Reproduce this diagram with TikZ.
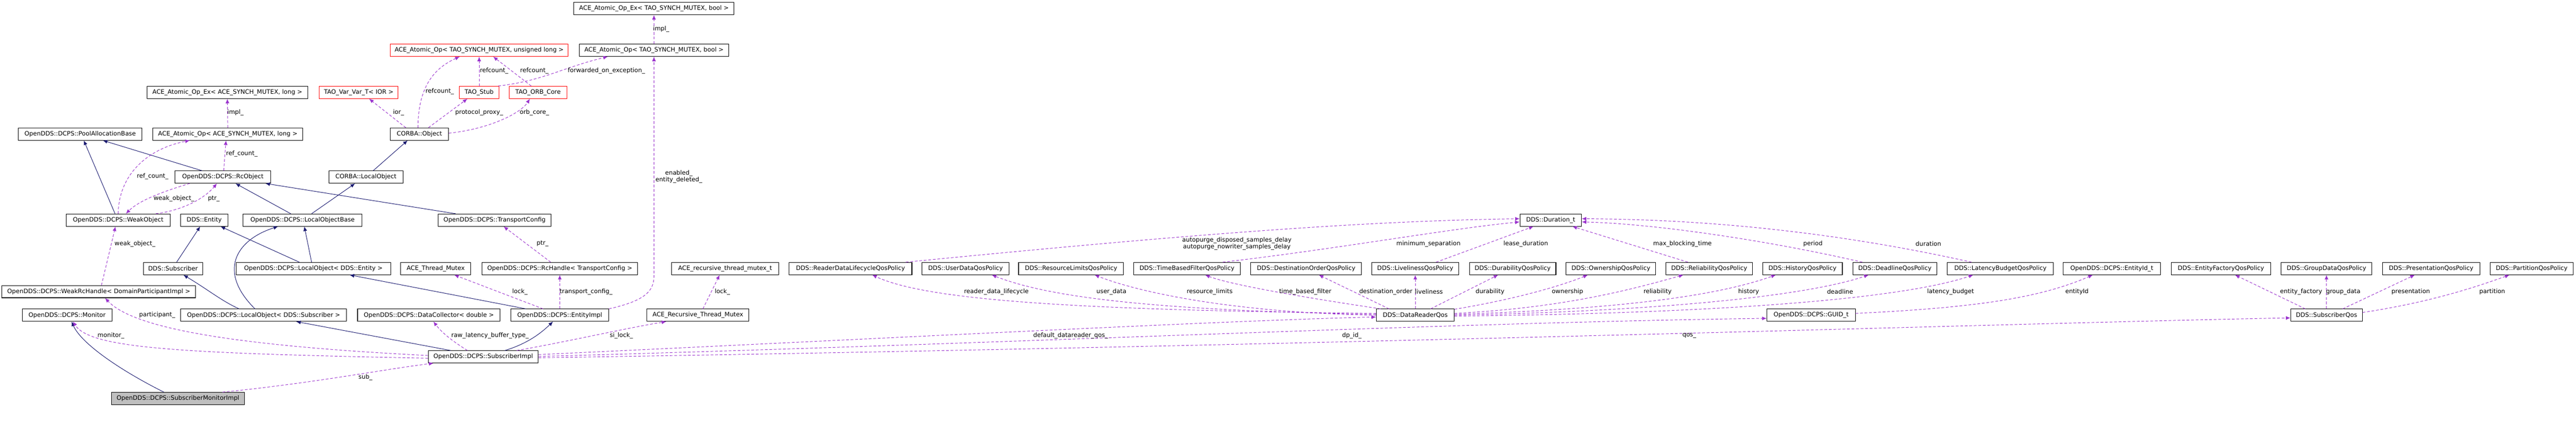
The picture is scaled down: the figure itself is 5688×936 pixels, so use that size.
\documentclass[tikz,border=0pt]{standalone}
\usepackage{fontspec}
\setmainfont{DejaVu Sans}
\usetikzlibrary{calc,arrows.meta}
\definecolor{navy}{HTML}{191970}
\definecolor{purp}{HTML}{9A32CD}
\begin{document}
\begin{tikzpicture}[x=0.5pt,y=-0.5pt,
  cls/.style={draw=black,line width=0.6pt,fill=white,minimum height=13.5pt,inner sep=0pt,font=\fontsize{6.7}{7}\selectfont},
  redcls/.style={cls,draw=red},
  inh/.style={navy,line width=0.55pt,-{Latex[length=5pt,width=4.2pt]}},
  use/.style={purp,line width=0.55pt,dash pattern=on 3pt off 2pt,-{Latex[length=5pt,width=4.2pt]}},
  lbl/.style={inner sep=0pt,font=\fontsize{6.7}{7}\selectfont,align=center}]
\useasboundingbox (0,0) rectangle (5688,936);
% nodes
\node[cls,minimum width=177.5pt] (opexlong) at (502,204) {ACE\_Atomic\_Op\_Ex< ACE\_SYNCH\_MUTEX, long >};
\node[redcls,minimum width=87pt] (taovar) at (792,204) {TAO\_Var\_Var\_T< IOR >};
\node[cls,minimum width=136.5pt] (pool) at (177,296) {OpenDDS::DCPS::PoolAllocationBase};
\node[cls,minimum width=165.5pt] (oplong) at (503,296) {ACE\_Atomic\_Op< ACE\_SYNCH\_MUTEX, long >};
\node[cls,minimum width=64.5pt] (cobj) at (926,296) {CORBA::Object};
\node[cls,minimum width=105.5pt] (rcobj) at (492,391) {OpenDDS::DCPS::RcObject};
\node[cls,minimum width=82pt] (clocal) at (808,391) {CORBA::LocalObject};
\node[cls,minimum width=115pt] (weak) at (261,486) {OpenDDS::DCPS::WeakObject};
\node[cls,minimum width=52.5pt] (entity) at (451,486) {DDS::Entity};
\node[cls,minimum width=131.5pt] (lob) at (668,486) {OpenDDS::DCPS::LocalObjectBase};
\node[cls,minimum width=125pt] (tconf) at (1092,486) {OpenDDS::DCPS::TransportConfig};
\node[cls,minimum width=65.5pt] (dsub) at (382,593) {DDS::Subscriber};
\node[cls,minimum width=170.5pt] (loent) at (692,593) {OpenDDS::DCPS::LocalObject< DDS::Entity >};
\node[cls,minimum width=77pt] (thmutex) at (962,593) {ACE\_Thread\_Mutex};
\node[cls,minimum width=172pt] (rch) at (1236,593) {OpenDDS::DCPS::RcHandle< TransportConfig >};
\node[cls,minimum width=118.5pt] (rtmt) at (1601,593) {ACE\_recursive\_thread\_mutex\_t};
\node[cls,minimum width=213.5pt] (wrch) at (218,644) {OpenDDS::DCPS::WeakRcHandle< DomainParticipantImpl >};
\node[cls,minimum width=99pt] (mon) at (148,696) {OpenDDS::DCPS::Monitor};
\node[cls,minimum width=183.5pt] (losub) at (582,696) {OpenDDS::DCPS::LocalObject< DDS::Subscriber >};
\node[cls,minimum width=157.5pt] (dcoll) at (947,696) {OpenDDS::DCPS::DataCollector< double >};
\node[cls,minimum width=108pt] (eimpl) at (1236,696) {OpenDDS::DCPS::EntityImpl};
\node[cls,minimum width=113pt] (rtm) at (1541,696) {ACE\_Recursive\_Thread\_Mutex};
\node[cls,minimum width=121.5pt] (simpl) at (1067,788) {OpenDDS::DCPS::SubscriberImpl};
\node[cls,fill={rgb,255:red,191;green,191;blue,191},minimum width=147pt] (smi) at (393,880) {OpenDDS::DCPS::SubscriberMonitorImpl};
\node[cls,minimum width=177pt] (opexbool) at (1444,19) {ACE\_Atomic\_Op\_Ex< TAO\_SYNCH\_MUTEX, bool >};
\node[redcls,minimum width=196.5pt] (opul) at (1058,111) {ACE\_Atomic\_Op< TAO\_SYNCH\_MUTEX, unsigned long >};
\node[cls,minimum width=165pt] (opbool) at (1444,111) {ACE\_Atomic\_Op< TAO\_SYNCH\_MUTEX, bool >};
\node[redcls,minimum width=43.5pt] (stub) at (1058,204) {TAO\_Stub};
\node[redcls,minimum width=63.5pt] (orb) at (1188,204) {TAO\_ORB\_Core};
\node[cls,minimum width=135.5pt] (rdl) at (1878,593) {DDS::ReaderDataLifecycleQosPolicy};
\node[cls,minimum width=96pt] (ud) at (2132,593) {DDS::UserDataQosPolicy};
\node[cls,minimum width=116pt] (rl) at (2365,593) {DDS::ResourceLimitsQosPolicy};
\node[cls,minimum width=118pt] (tbf) at (2621,593) {DDS::TimeBasedFilterQosPolicy};
\node[cls,minimum width=122pt] (dord) at (2884,593) {DDS::DestinationOrderQosPolicy};
\node[cls,minimum width=96pt] (live) at (3125,593) {DDS::LivelinessQosPolicy};
\node[cls,minimum width=95.5pt] (dur) at (3340,593) {DDS::DurabilityQosPolicy};
\node[cls,minimum width=99pt] (own) at (3557,593) {DDS::OwnershipQosPolicy};
\node[cls,minimum width=95.5pt] (rel) at (3774,593) {DDS::ReliabilityQosPolicy};
\node[cls,minimum width=88pt] (hist) at (3980,593) {DDS::HistoryQosPolicy};
\node[cls,minimum width=93pt] (dead) at (4184,593) {DDS::DeadlineQosPolicy};
\node[cls,minimum width=117pt] (lat) at (4417,593) {DDS::LatencyBudgetQosPolicy};
\node[cls,minimum width=107.5pt] (eid) at (4663,593) {OpenDDS::DCPS::EntityId\_t};
\node[cls,minimum width=110pt] (efac) at (4904,593) {DDS::EntityFactoryQosPolicy};
\node[cls,minimum width=100pt] (gd) at (5137,593) {DDS::GroupDataQosPolicy};
\node[cls,minimum width=107.5pt] (pres) at (5368,593) {DDS::PresentationQosPolicy};
\node[cls,minimum width=92pt] (part) at (5590,593) {DDS::PartitionQosPolicy};
\node[cls,minimum width=68pt] (durt) at (3424,486) {DDS::Duration\_t};
\node[cls,minimum width=86pt] (drq) at (3125,696) {DDS::DataReaderQos};
\node[cls,minimum width=97.5pt] (guid) at (3999,696) {OpenDDS::DCPS::GUID\_t};
\node[cls,minimum width=79pt] (sq) at (5137,696) {DDS::SubscriberQos};
% inheritance
\draw[inh] ($(weak.north)+(-7,0)$) -- ($(pool.south)+(8,0)$);
\draw[inh] ($(rcobj.north)+(-46,0)$) -- ($(pool.south)+(50,0)$);
\draw[inh] ($(lob.north)+(-26,0)$) -- ($(rcobj.south)+(28,0)$);
\draw[inh] ($(lob.north)+(20,0)$) -- ($(clocal.south)+(-24,0)$);
\draw[inh] ($(clocal.north)+(16,0)$) -- ($(cobj.south)+(-26,0)$);
\draw[inh] ($(tconf.north)+(-86,0)$) -- ($(rcobj.south)+(94,0)$);
\draw[inh] ($(dsub.north)+(8,0)$) -- ($(entity.south)+(-9,0)$);
\draw[inh] ($(loent.north)+(-31,0)$) -- ($(entity.south)+(36,0)$);
\draw[inh] ($(loent.north)+(-4,0)$) -- ($(lob.south)+(4,0)$);
\draw[inh] ($(losub.north)+(-54,0)$) .. controls (490,665) and (460,640) .. ($(dsub.south)+(23,0)$);
\draw[inh] ($(losub.north)+(-19,0)$) .. controls (480,600) and (520,530) .. ($(lob.south)+(-54,0)$);
\draw[inh] ($(eimpl.north)+(-75,0)$) -- ($(loent.south)+(80,0)$);
\draw[inh] ($(simpl.north)+(-72,0)$) -- ($(losub.south)+(72,0)$);
\draw[inh] ($(simpl.north)+(48,0)$) .. controls (1160,760) and (1190,740) .. ($(eimpl.south)+(-15,0)$);
\draw[inh] ($(smi.north)+(-31,0)$) .. controls (270,820) and (180,760) .. ($(mon.south)+(10,0)$);
% usage
\draw[use] (oplong.north) -- (opexlong.south);
\draw[use] ($(rcobj.north)+(2,0)$) -- ($(oplong.south)+(-4,0)$);
\draw[use] ($(weak.north)+(0,0)$) .. controls (262,390) and (320,330) .. ($(oplong.south)+(-84,0)$);
\draw[use] ($(cobj.north)+(-30,0)$) -- ($(taovar.south)+(23,0)$);
\draw[use] ($(cobj.north)+(-3,0)$) .. controls (923,190) and (960,150) .. ($(opul.south)+(-43,0)$);
\draw[use] (stub.north) -- (opul.south);
\draw[use] ($(orb.north)+(-15,0)$) -- ($(opul.south)+(31,0)$);
\draw[use] ($(stub.north east)+(-2,0)$) .. controls (1200,178) and (1240,150) .. ($(opbool.south)+(-102,0)$);
\draw[use] (opbool.north) -- (opexbool.south);
\draw[use] ($(cobj.north)+(20,0)$) -- ($(stub.south)+(-26,0)$);
\draw[use] ($(cobj.east)+(0,-2)$) .. controls (1080,285) and (1150,250) .. ($(orb.south)+(-18,0)$);
\draw[use] ($(rcobj.south)+(-73,0)$) .. controls (370,420) and (310,440) .. ($(weak.north)+(17,0)$);
\draw[use] ($(weak.north)+(83,0)$) .. controls (400,465) and (450,440) .. ($(rcobj.south)+(-13,0)$);
\draw[use] ($(wrch.north)+(6,0)$) -- ($(weak.south)+(-6,0)$);
\draw[use] ($(rch.north)+(-20,0)$) -- ($(tconf.south)+(20,0)$);
\draw[use] (eimpl.north east) .. controls (1420,665) and (1444,645) .. (1444,610) -- (opbool.south);
\draw[use] ($(eimpl.north)+(-37,0)$) -- ($(thmutex.south)+(41,0)$);
\draw[use] (eimpl.north) -- (rch.south);
\draw[use] ($(rtm.north)+(11,0)$) -- ($(rtmt.south)+(-12,0)$);
\draw[use] ($(simpl.west)+(0,-3)$) .. controls (550,765) and (300,730) .. ($(wrch.south)+(14,0)$);
\draw[use] ($(simpl.west)+(0,3)$) .. controls (400,780) and (200,770) .. ($(mon.south)+(13,0)$);
\draw[use] ($(simpl.north)+(-35,0)$) .. controls (1010,760) and (980,740) .. ($(dcoll.south)+(10,0)$);
\draw[use] ($(simpl.north)+(74,0)$) .. controls (1250,755) and (1380,725) .. ($(rtm.south)+(-70,0)$);
\draw[use] ($(smi.north)+(98,0)$) .. controls (700,845) and (850,815) .. ($(simpl.south)+(-110,0)$);
\draw[use] ($(simpl.east)+(0,-5)$) .. controls (2000,745) and (2700,708) .. ($(drq.west)+(0,4)$);
\draw[use] ($(simpl.east)+(0,-1)$) .. controls (2200,760) and (3200,712) .. ($(guid.west)+(0,7)$);
\draw[use] ($(simpl.east)+(0,2)$) .. controls (3000,762) and (4500,712) .. ($(sq.west)+(0,6)$);
% durations
\draw[use] ($(rdl.north)+(122,0)$) .. controls (2600,520) and (3000,488) .. ($(durt.west)+(0,-3)$);
\draw[use] ($(tbf.north)+(79,0)$) .. controls (2950,550) and (3200,505) .. ($(durt.west)+(0,4)$);
\draw[use] ($(live.north)+(46,0)$) -- ($(durt.south)+(-38,0)$);
\draw[use] ($(rel.north)+(-47,0)$) -- ($(durt.south)+(48,0)$);
\draw[use] ($(dead.north)+(-72,0)$) .. controls (3900,530) and (3650,494) .. ($(durt.east)+(0,4)$);
\draw[use] ($(lat.north)+(-64,0)$) .. controls (4000,500) and (3700,484) .. ($(durt.east)+(0,-3)$);
% DataReaderQos policies
\draw[use] ($(drq.west)+(0,-4)$) .. controls (2400,685) and (2050,665) .. ($(rdl.south)+(48,0)$);
\draw[use] ($(drq.west)+(0,-2)$) .. controls (2500,685) and (2300,650) .. ($(ud.south)+(58,0)$);
\draw[use] ($(drq.west)+(0,0)$) .. controls (2700,690) and (2500,640) .. ($(rl.south)+(52,0)$);
\draw[use] ($(drq.north west)+(10,0)$) .. controls (2900,660) and (2720,630) .. ($(tbf.south)+(40,0)$);
\draw[use] ($(drq.north)+(-58,0)$) -- ($(dord.south)+(28,0)$);
\draw[use] (drq.north) -- (live.south);
\draw[use] ($(drq.north)+(34,0)$) -- ($(dur.south)+(-32,0)$);
\draw[use] ($(drq.north east)+(0,1)$) .. controls (3350,660) and (3450,630) .. ($(own.south)+(-51,0)$);
\draw[use] ($(drq.east)+(0,-4)$) .. controls (3450,680) and (3600,640) .. ($(rel.south)+(-57,0)$);
\draw[use] ($(drq.east)+(0,-2)$) .. controls (3600,682) and (3800,650) .. ($(hist.south)+(-59,0)$);
\draw[use] ($(drq.east)+(0,0)$) .. controls (3700,686) and (4000,650) .. ($(dead.south)+(-58,0)$);
\draw[use] ($(drq.east)+(0,2)$) .. controls (3800,692) and (4200,660) .. ($(lat.south)+(-60,0)$);
\draw[use] ($(guid.east)+(0,-4)$) .. controls (4350,680) and (4500,660) .. ($(eid.south)+(-42,0)$);
\draw[use] ($(sq.north)+(-47,0)$) -- ($(efac.south)+(31,0)$);
\draw[use] (sq.north) -- (gd.south);
\draw[use] ($(sq.north)+(36,0)$) -- ($(pres.south)+(-36,0)$);
\draw[use] ($(sq.east)+(0,-6)$) .. controls (5350,670) and (5450,640) .. ($(part.south)+(-49,0)$);
% labels
\node[lbl] (l1) at (1460,64) {impl\_};
\node[lbl] (l2) at (520,249) {impl\_};
\node[lbl] (l3) at (880,249) {ior\_};
\node[lbl] (l4) at (971,202) {refcount\_};
\node[lbl] (l5) at (1091,156) {refcount\_};
\node[lbl] (l6) at (1180,156) {refcount\_};
\node[lbl] (l7) at (1339,156) {forwarded\_on\_exception\_};
\node[lbl] (l8) at (1058,249) {protocol\_proxy\_};
\node[lbl] (l9) at (1180,249) {orb\_core\_};
\node[lbl] (l10) at (534,340) {ref\_count\_};
\node[lbl] (l11) at (337,389) {ref\_count\_};
\node[lbl] (l12) at (384,439) {weak\_object\_};
\node[lbl] (l13) at (472,439) {ptr\_};
\node[lbl] (l14) at (298,538) {weak\_object\_};
\node[lbl] (l15) at (1198,538) {ptr\_};
\node[lbl] (l16) at (1499,390) {enabled\_\\entity\_deleted\_};
\node[lbl] (l17) at (1148,644) {lock\_};
\node[lbl] (l18) at (1294,644) {transport\_config\_};
\node[lbl] (l19) at (1595,644) {lock\_};
\node[lbl] (l20) at (347,695) {participant\_};
\node[lbl] (l21) at (245,741) {monitor\_};
\node[lbl] (l22) at (1082,741) {raw\_latency\_buffer\_type\_};
\node[lbl] (l23) at (1372,741) {si\_lock\_};
\node[lbl] (l24) at (807,833) {sub\_};
\node[lbl] (l25) at (2731,538) {autopurge\_disposed\_samples\_delay\\autopurge\_nowriter\_samples\_delay};
\node[lbl] (l26) at (2200,644) {reader\_data\_lifecycle};
\node[lbl] (l27) at (2454,644) {user\_data};
\node[lbl] (l28) at (2671,644) {resource\_limits};
\node[lbl] (l29) at (2364,741) {default\_datareader\_qos\_};
\node[lbl] (l30) at (2882,644) {time\_based\_filter};
\node[lbl] (l31) at (3060,644) {destination\_order};
\node[lbl] (l32) at (3155,644) {liveliness};
\node[lbl] (l33) at (3290,644) {durability};
\node[lbl] (l34) at (3461,644) {ownership};
\node[lbl] (l35) at (3154,538) {minimum\_separation};
\node[lbl] (l36) at (3369,538) {lease\_duration};
\node[lbl] (l37) at (2985,741) {dp\_id\_};
\node[lbl] (l38) at (3715,538) {max\_blocking\_time};
\node[lbl] (l39) at (4003,538) {period};
\node[lbl] (l40) at (4258,538) {duration};
\node[lbl] (l41) at (3660,644) {reliability};
\node[lbl] (l42) at (3861,644) {history};
\node[lbl] (l43) at (4063,644) {deadline};
\node[lbl] (l44) at (4307,644) {latency\_budget};
\node[lbl] (l45) at (4586,644) {entityId};
\node[lbl] (l46) at (3730,741) {qos\_};
\node[lbl] (l47) at (5081,644) {entity\_factory};
\node[lbl] (l48) at (5174,644) {group\_data};
\node[lbl] (l49) at (5323,644) {presentation};
\node[lbl] (l50) at (5503,644) {partition};
\end{tikzpicture}
\end{document}
